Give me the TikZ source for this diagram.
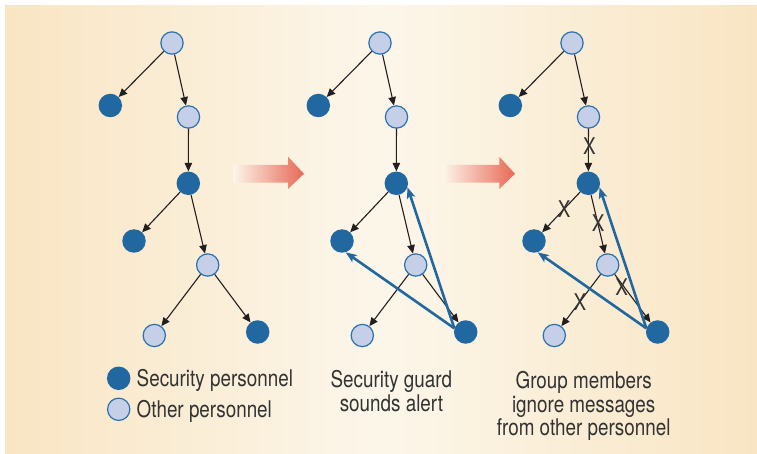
\documentclass[tikz,border=0pt]{standalone}
\usepackage{fontspec}
\setmainfont{TeX Gyre Heros}[FakeStretch=0.82]
\usetikzlibrary{arrows.meta}
\definecolor{bgedge}{RGB}{249,229,195}
\definecolor{bgmid}{RGB}{252,246,234}
\definecolor{darkblue}{RGB}{33,104,160}
\definecolor{lightfill}{RGB}{197,207,232}
\definecolor{lightedge}{RGB}{42,114,176}
\definecolor{arrowred}{RGB}{231,104,86}
\definecolor{txt}{RGB}{51,51,51}
\definecolor{linec}{RGB}{35,31,32}
\begin{document}
\begin{tikzpicture}[x=1pt,y=-1pt,
  sec/.style={circle,fill=darkblue,minimum size=23.5pt,inner sep=0pt},
  oth/.style={circle,fill=lightfill,draw=lightedge,line width=1.2pt,minimum size=22.3pt,inner sep=0pt},
  msg/.style={draw=linec,line width=1.1pt,-{Triangle[length=8.5pt,width=7.5pt]}},
  alert/.style={draw=darkblue,line width=2.6pt,-{Stealth[length=11pt,width=8.5pt,inset=2.5pt]}},
  cross/.style={text=txt,font=\fontsize{23}{23}\selectfont,inner sep=0pt},
  caption/.style={text=txt,font=\fontsize{23}{23.5}\selectfont,align=center,inner sep=0pt,anchor=north},
  legendtxt/.style={text=txt,font=\fontsize{23}{23.5}\selectfont,inner sep=0pt,anchor=base west},
  bigarrow/.style={left color=bgmid,right color=arrowred,draw=none}
]
\useasboundingbox (0,0) rectangle (757,454);
\shade[left color=bgedge,right color=bgedge,middle color=bgmid] (5,6) rectangle (757,454);

% transition arrows
\shade[bigarrow] (233,165) -- (288,165) -- (288,156.7) -- (304,173.8) -- (288,189) -- (288,182.7) -- (233,182.7) -- cycle;
\shade[bigarrow] (442.3,165) -- (499.3,165) -- (499.3,156.7) -- (515,173.8) -- (499.3,189) -- (499.3,182.7) -- (442.3,182.7) -- cycle;

% three networks
\foreach \o/\p in {0/1,208/2,400/3}{
  \node[oth] (T\p) at (172+\o,43) {};
  \node[sec] (A\p) at (110.3+\o,105.5) {};
  \node[oth] (B\p) at (188.5+\o,117) {};
  \node[sec] (C\p) at (188.3+\o,183.3) {};
  \node[sec] (D\p) at (134+\o,241) {};
  \node[oth] (E\p) at (207.7+\o,265) {};
  \node[oth] (F\p) at (154.3+\o,335.5) {};
  \node[sec] (G\p) at (257.7+\o,332) {};
  \draw[msg] (T\p) -- (A\p);
  \draw[msg] (T\p) -- (B\p);
  \draw[msg] (B\p) -- (C\p);
  \draw[msg] (C\p) -- (D\p);
  \draw[msg] (C\p) -- (E\p);
  \draw[msg] (E\p) -- (F\p);
  \draw[msg] (E\p) -- (G\p);
}

% alerts
\foreach \p in {2,3}{
  \draw[alert] (G\p.162) -- (C\p.-20);
  \draw[alert] (G\p.162) -- (D\p.-72);
}

% ignored messages
\node[cross] (x1) at (589.3,146) {X};
\node[cross] (x2) at (564.2,208.8) {X};
\node[cross] (x3) at (598.2,223.3) {X};
\node[cross] (x4) at (580,301.7) {X};
\node[cross] (x5) at (621.7,286.7) {X};

% legend
\node[sec] (ls) at (118.7,378.3) {};
\node[oth] (lo) at (118.7,409.3) {};
\node[legendtxt] (lst) at (136.5,386) {Security personnel};
\node[legendtxt] (lot) at (136.5,417) {Other personnel};

% captions
\node[caption] (cap2) at (391.4,370.3) {Security guard\\sounds alert};
\node[caption] (cap3) at (583.7,371.3) {Group members\\ignore messages\\from other personnel};
\end{tikzpicture}
\end{document}
